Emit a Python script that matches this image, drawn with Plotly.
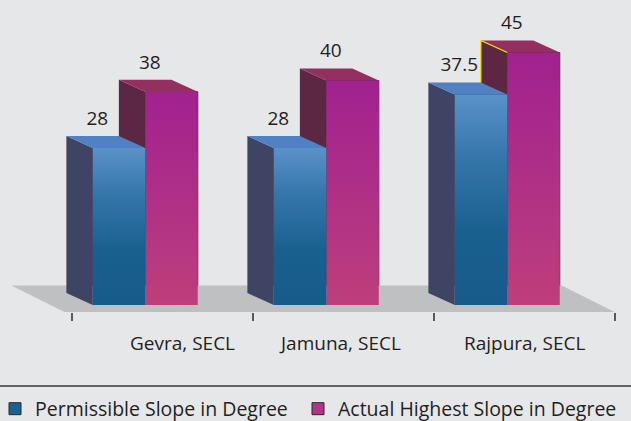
import plotly.graph_objects as go

# ---------------- data ----------------
categories = ["Gevra, SECL", "Jamuna, SECL", "Rajpura, SECL"]
permissible = [28, 28, 37.5]
actual = [38, 40, 45]
series_names = ["Permissible Slope in Degree", "Actual Highest Slope in Degree"]
series_values = [permissible, actual]

# ---------------- styling / geometry ----------------
W, H = 631, 421
PX_X = 181.0      # pixels per category unit
PX_Y = 5.61       # pixels per degree
X0_PX = 71.6      # pixel x of category boundary 0
Y0_PX = 305.0     # pixel y of value 0 (bar front plane)

def py(p):
    return (Y0_PX - p) / PX_Y

x_range = [-X0_PX / PX_X, (W - X0_PX) / PX_X]
y_range = [py(H), py(0)]

DX, DY = -26.4 / PX_X, 12.0 / PX_Y          # bar depth vector
FDX, FDY = -53.0 / PX_X, 26.5 / PX_Y        # floor depth vector
BAR_W = 0.29
OFFS = [0.117, 0.407]

front_scales = [
    [[0, "#175b8a"], [0.35, "#19608f"], [0.72, "#3777ab"], [1, "#5a91c9"]],
    [[0, "#bd3f7b"], [1, "#a12190"]],
]
side_cols = ["#3f4465", "#5b2742"]
top_cols = ["#4f81c3", "#93305f"]
legend_cols = ["#1a6192", "#b3338a"]
TXT = "#231f20"
FONT = "Open Sans"
BG = "#e6e7e9"
label_nudge_px = [20, -3, 0]

fig = go.Figure()
n = len(categories)

# legend-bearing bars (front faces; covered by gradient faces)
for s in range(2):
    fig.add_trace(go.Bar(
        x=list(range(n)), y=series_values[s], offset=OFFS[s], width=BAR_W,
        name=series_names[s], legend="legend" if s == 0 else "legend2",
        marker=dict(color=legend_cols[s], line=dict(color="#2b2b2b", width=1)),
        hoverinfo="skip"))

# floor
fl_y0 = py(312)
fx0, fx1 = -0.04, float(n)
fig.add_trace(go.Scatter(
    x=[fx0, fx1, fx1 + FDX, fx0 + FDX, fx0],
    y=[fl_y0, fl_y0, fl_y0 + FDY, fl_y0 + FDY, fl_y0],
    fill="toself", fillcolor="#bfc0c2", mode="lines", line=dict(width=0),
    showlegend=False, hoverinfo="skip"))

def faces(s):
    sx, sy, tx, ty = [], [], [], []
    for i, v in enumerate(series_values[s]):
        a = i + OFFS[s]
        sx += [a, a, a + DX, a + DX, a, None]
        sy += [0, v, v + DY, DY, 0, None]
        tx += [a, a + BAR_W, a + BAR_W + DX, a + DX, a, None]
        ty += [v, v, v + DY, v + DY, v, None]
    return sx, sy, tx, ty

for s in [1, 0]:
    sx, sy, tx, ty = faces(s)
    fig.add_trace(go.Scatter(x=sx, y=sy, fill="toself", fillcolor=side_cols[s],
                             mode="lines", line=dict(width=0), showlegend=False,
                             hoverinfo="skip"))
    fig.add_trace(go.Scatter(x=tx, y=ty, fill="toself", fillcolor=top_cols[s],
                             mode="lines", line=dict(width=0), showlegend=False,
                             hoverinfo="skip"))
    for i, v in enumerate(series_values[s]):
        a = i + OFFS[s]
        fig.add_trace(go.Scatter(
            x=[a, a + BAR_W, a + BAR_W, a, a], y=[0, 0, v, v, 0],
            fill="toself", mode="lines", line=dict(width=0),
            fillgradient=dict(type="vertical", colorscale=front_scales[s],
                              start=0, stop=v),
            showlegend=False, hoverinfo="skip"))
    if s == 1:
        # thin yellow edge seen on the last actual bar
        i = n - 1
        a = i + OFFS[1]
        v = actual[i]
        fig.add_trace(go.Scatter(
            x=[a, a + DX, a + DX], y=[v, v + DY, permissible[i] + DY],
            mode="lines", line=dict(color="#f2e100", width=1.2),
            showlegend=False, hoverinfo="skip"))

# value labels
for s in range(2):
    xs = [i + OFFS[s] + BAR_W / 2 - 0.12 for i in range(n)]
    ys = [v + 5.0 for v in series_values[s]]
    fig.add_trace(go.Scatter(
        x=xs, y=ys, mode="text", text=[f"{v:g}" for v in series_values[s]],
        textposition="middle center", textfont=dict(family=FONT, size=19, color=TXT),
        showlegend=False, hoverinfo="skip", cliponaxis=False))

# category labels
for i, c in enumerate(categories):
    fig.add_annotation(x=i + 0.5, y=py(343), text=c, showarrow=False,
                       xshift=label_nudge_px[i], xanchor="center", yanchor="middle",
                       font=dict(family=FONT, size=19, color=TXT))

# legend separator line
fig.add_shape(type="line", xref="paper", yref="paper", x0=0, x1=1,
              y0=(H - 386) / H, y1=(H - 386) / H,
              line=dict(color="#3a3a3a", width=1.5))

leg_common = dict(orientation="h", yanchor="middle", y=(H - 409) / H,
                  xanchor="left", bgcolor="rgba(0,0,0,0)",
                  font=dict(family=FONT, size=19.5, color=TXT))

fig.update_layout(
    width=W, height=H, margin=dict(l=0, r=0, t=0, b=0, autoexpand=False),
    paper_bgcolor=BG, plot_bgcolor=BG, barmode="overlay",
    showlegend=True,
    legend=dict(x=0, indentation=-5, **leg_common),
    legend2=dict(x=298 / W, **leg_common),
    xaxis=dict(range=x_range, showgrid=False, zeroline=False, showline=False,
               tickvals=list(range(n + 1)), showticklabels=False,
               ticks="outside", ticklen=8, tickwidth=1.5, tickcolor="#5a5a5a",
               anchor="free", position=(H - 312) / H, automargin=False,
               fixedrange=True),
    yaxis=dict(range=y_range, visible=False, fixedrange=True),
)

fig.write_html("out.html", config={"displayModeBar": False},
               post_script="document.body.style.margin='0px';")
